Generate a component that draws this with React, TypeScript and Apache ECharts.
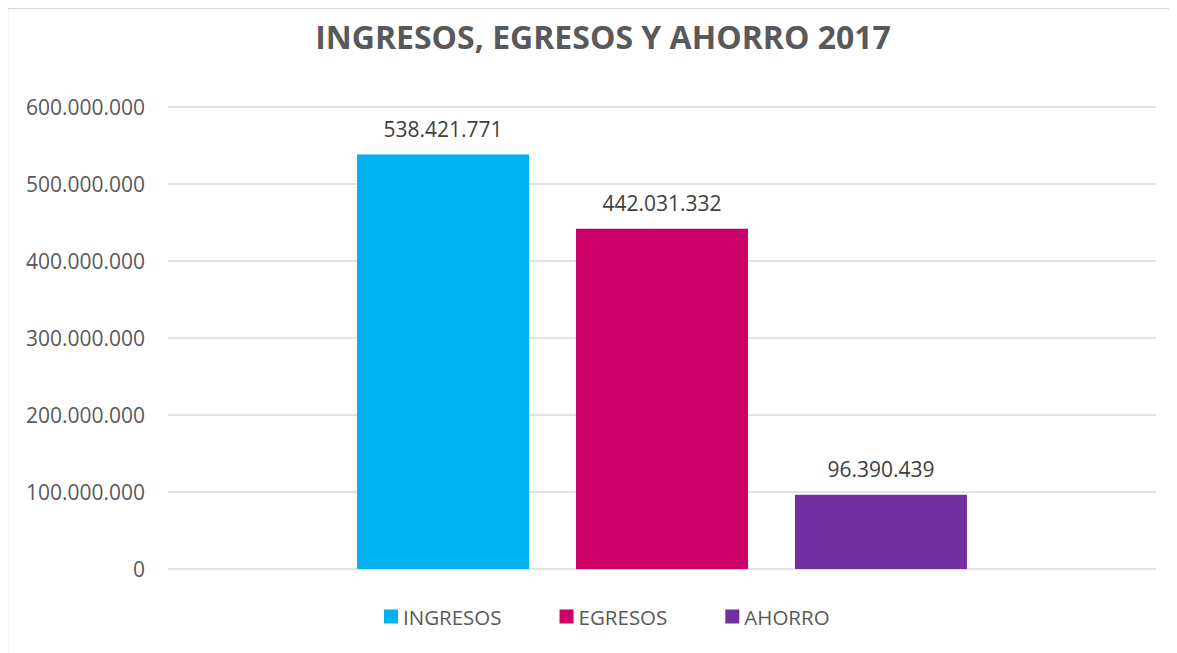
import React, { useEffect, useRef } from "react";
import * as echarts from "echarts";

const titleText = "INGRESOS, EGRESOS Y AHORRO 2017";
const categories = ["2017"];
const seriesNames = ["INGRESOS", "EGRESOS", "AHORRO"];
const seriesValues = [538421771, 442031332, 96390439];
const seriesColors = ["#00B0F0", "#CC0066", "#7030A0"];
const yTicks = { min: 0, max: 600000000, interval: 100000000 };

const FONT = "'Open Sans', 'Liberation Sans', sans-serif";

function fmt(v: number): string {
  const s = Math.round(v).toString();
  return s.replace(/\B(?=(\d{3})+(?!\d))/g, ".");
}

export default function App() {
  const ref = useRef<HTMLDivElement>(null);
  useEffect(() => {
    if (!ref.current) return;
    const chart = echarts.init(ref.current, undefined, { renderer: "svg" });
    const W = 1169;
    const H = 645;
    chart.setOption({
      animation: false,
      backgroundColor: "#ffffff",
      title: {
        text: titleText,
        left: 590,
        textAlign: "center",
        top: 7,
        textStyle: { fontFamily: FONT, fontSize: 32, fontWeight: "bold", color: "#595959" },
      },
      graphic: [
        { type: "line", shape: { x1: 0, y1: 0.5, x2: W, y2: 0.5 }, style: { stroke: "#d9d9d9", lineWidth: 1.5 } },
        { type: "line", shape: { x1: -0.5, y1: 0, x2: -0.5, y2: H }, style: { stroke: "#d9d9d9", lineWidth: 1.5 } },
      ],
      legend: {
        data: seriesNames,
        bottom: 21,
        left: 371,
        icon: "rect",
        itemWidth: 14,
        itemHeight: 14,
        itemGap: 58,
        textStyle: { fontFamily: FONT, fontSize: 20.5, color: "#595959" },
      },
      grid: { left: 160, top: 99, width: 988, height: 462, containLabel: false },
      xAxis: {
        type: "category",
        data: categories,
        axisLine: { show: false },
        axisTick: { show: false },
        axisLabel: { show: false },
      },
      yAxis: {
        type: "value",
        min: yTicks.min,
        max: yTicks.max,
        interval: yTicks.interval,
        axisLine: { show: false },
        axisTick: { show: false },
        splitLine: { lineStyle: { color: "#d9d9d9", width: 1.5 } },
        axisLabel: {
          margin: 23,
          formatter: (v: number) => fmt(v),
          fontFamily: FONT,
          fontSize: 21,
          color: "#595959",
        },
      },
      series: seriesNames.map((name, i) => ({
        name,
        type: "bar",
        data: [seriesValues[i]],
        barWidth: 172,
        barGap: "27.3%",
        itemStyle: { color: seriesColors[i] },
        label: {
          show: true,
          position: "top",
          distance: 15,
          formatter: (p: any) => fmt(p.value),
          fontFamily: FONT,
          fontSize: 21,
          color: "#404040",
        },
      })),
    });
    return () => chart.dispose();
  }, []);
  return <div ref={ref} style={{ width: 1169, height: 645 }} />;
}
